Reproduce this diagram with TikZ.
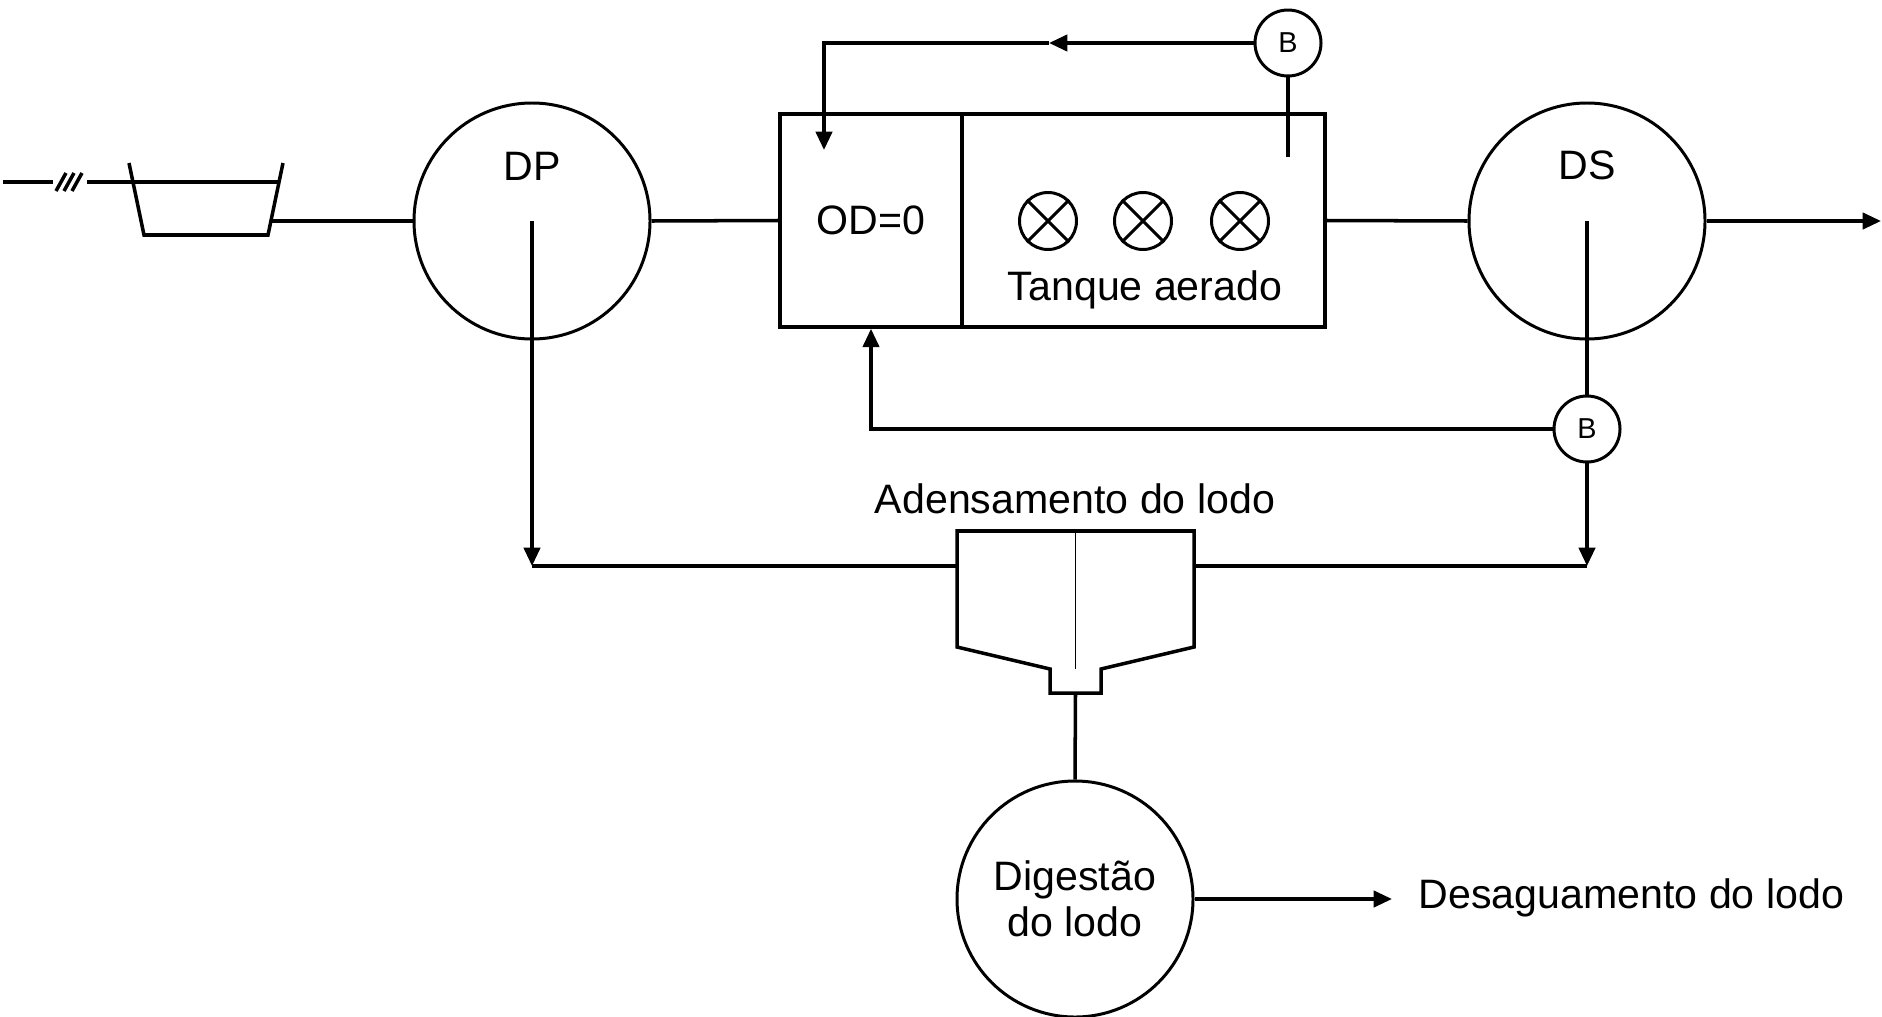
\documentclass[tikz,border=0pt]{standalone}
\usepackage{fontspec}
\setmainfont{Liberation Sans}
\usetikzlibrary{arrows.meta}

\begin{document}
\begin{tikzpicture}[x=1cm,y=-1cm,line width=1pt,
font=\fontsize{11.7pt}{13.2pt}\selectfont,
>={Triangle[length=5.2pt,width=4.6pt]},
unit/.style ={circle, draw, line width=0.85pt,
  minimum size=2.36cm, inner sep=0pt
},
pump/.style ={circle, draw, line width=0.85pt,
  minimum size=0.66cm, inner sep=0pt,
  font=\fontsize{8.2pt}{9pt}\selectfont
},
tank/.style ={rectangle, draw,
  minimum height=2.13cm, inner sep=0pt
},
aerator/.style ={circle, draw, line width=0.85pt,
  minimum size=0.57cm, inner sep=0pt
}]
\useasboundingbox (0,0) rectangle (18.82,10.16);
\coordinate (in) at (0.03,1.82);
\coordinate (gin) at (2.79,1.82);
\coordinate (gout) at (2.71,2.21);
\draw (1.29,1.63) -- (1.44,2.35) -- (2.68,2.35) -- (2.83,1.63);
\draw (in) -- (0.53,1.82);
\foreach \x in {0.56,0.64,0.72}
  \draw (\x,1.91) -- (\x+0.1,1.73);
\draw (0.87,1.82) -- (gin);
\node (dp) at (5.32,2.21) [unit] {};
\node (dptext) at (5.32,1.66) {DP};
\node (anox) at (8.71,2.205) [tank, minimum width=1.82cm] {OD=0};
\node (aer) at (11.435,2.205) [tank, minimum width=3.63cm] {};
\node (aertext) at (11.45,2.90) {Tanque aerado};
\foreach \x [count=\i] in {10.48,11.43,12.40} {
  \node (a\i) at (\x,2.21) [aerator] {};
  \draw[line width=0.85pt] (a\i.north west) -- (a\i.south east)
    (a\i.north east) -- (a\i.south west);
}
\node (ds) at (15.87,2.21) [unit] {};
\node (dstext) at (15.87,1.65) {DS};
\node (b1) at (12.88,0.43) [pump] {B};
\node (b2) at (15.87,4.29) [pump] {B};
\node (thtext) at (10.75,4.99) {Adensamento do lodo};
\node (dig) at (10.75,8.99) [unit, align=center] {Digestão\\do lodo};
\node (desag) at (14.17,8.98) [anchor=west, inner sep=0pt] {Desaguamento do lodo};
\draw (9.57,5.31) -- (11.94,5.31) -- (11.94,6.47) -- (11.01,6.69)
  -- (11.01,6.93) -- (10.50,6.93) -- (10.50,6.69) -- (9.57,6.47) -- cycle;
\draw[line width=0.45pt] (10.755,5.31) -- (10.755,6.69);
\coordinate (thl) at (9.57,5.66);
\coordinate (thr) at (11.94,5.66);
\coordinate (thout) at (10.755,6.93);
\coordinate (jl) at (5.32,5.66);
\coordinate (jr) at (15.87,5.66);
\coordinate (out) at (18.81,2.21);
\coordinate (b1in) at (12.88,1.57);
\coordinate (b1mid) at (10.49,0.43);
\coordinate (b1end) at (8.24,1.50);
\coordinate (desin) at (13.92,8.99);
\draw (gout) -- (dp.west);
\draw (dp.east) -- (anox.west);
\draw (aer.east) -- (ds.west);
\draw[->] (ds.east) -- (out);
\draw (b1.south) -- (b1in);
\draw[->] (b1.west) -- (b1mid);
\draw[->] (b1mid) -| (b1end);
\draw (ds.center) -- (b2.north);
\draw[->] (b2.west) -| (anox.south);
\draw[->] (dp.center) -- (jl);
\draw (jl) -- (thl);
\draw[->] (b2.south) -- (jr);
\draw (thr) -- (jr);
\draw (thout) -- (dig.north);
\draw[->] (dig.east) -- (desin);
\end{tikzpicture}
\end{document}
